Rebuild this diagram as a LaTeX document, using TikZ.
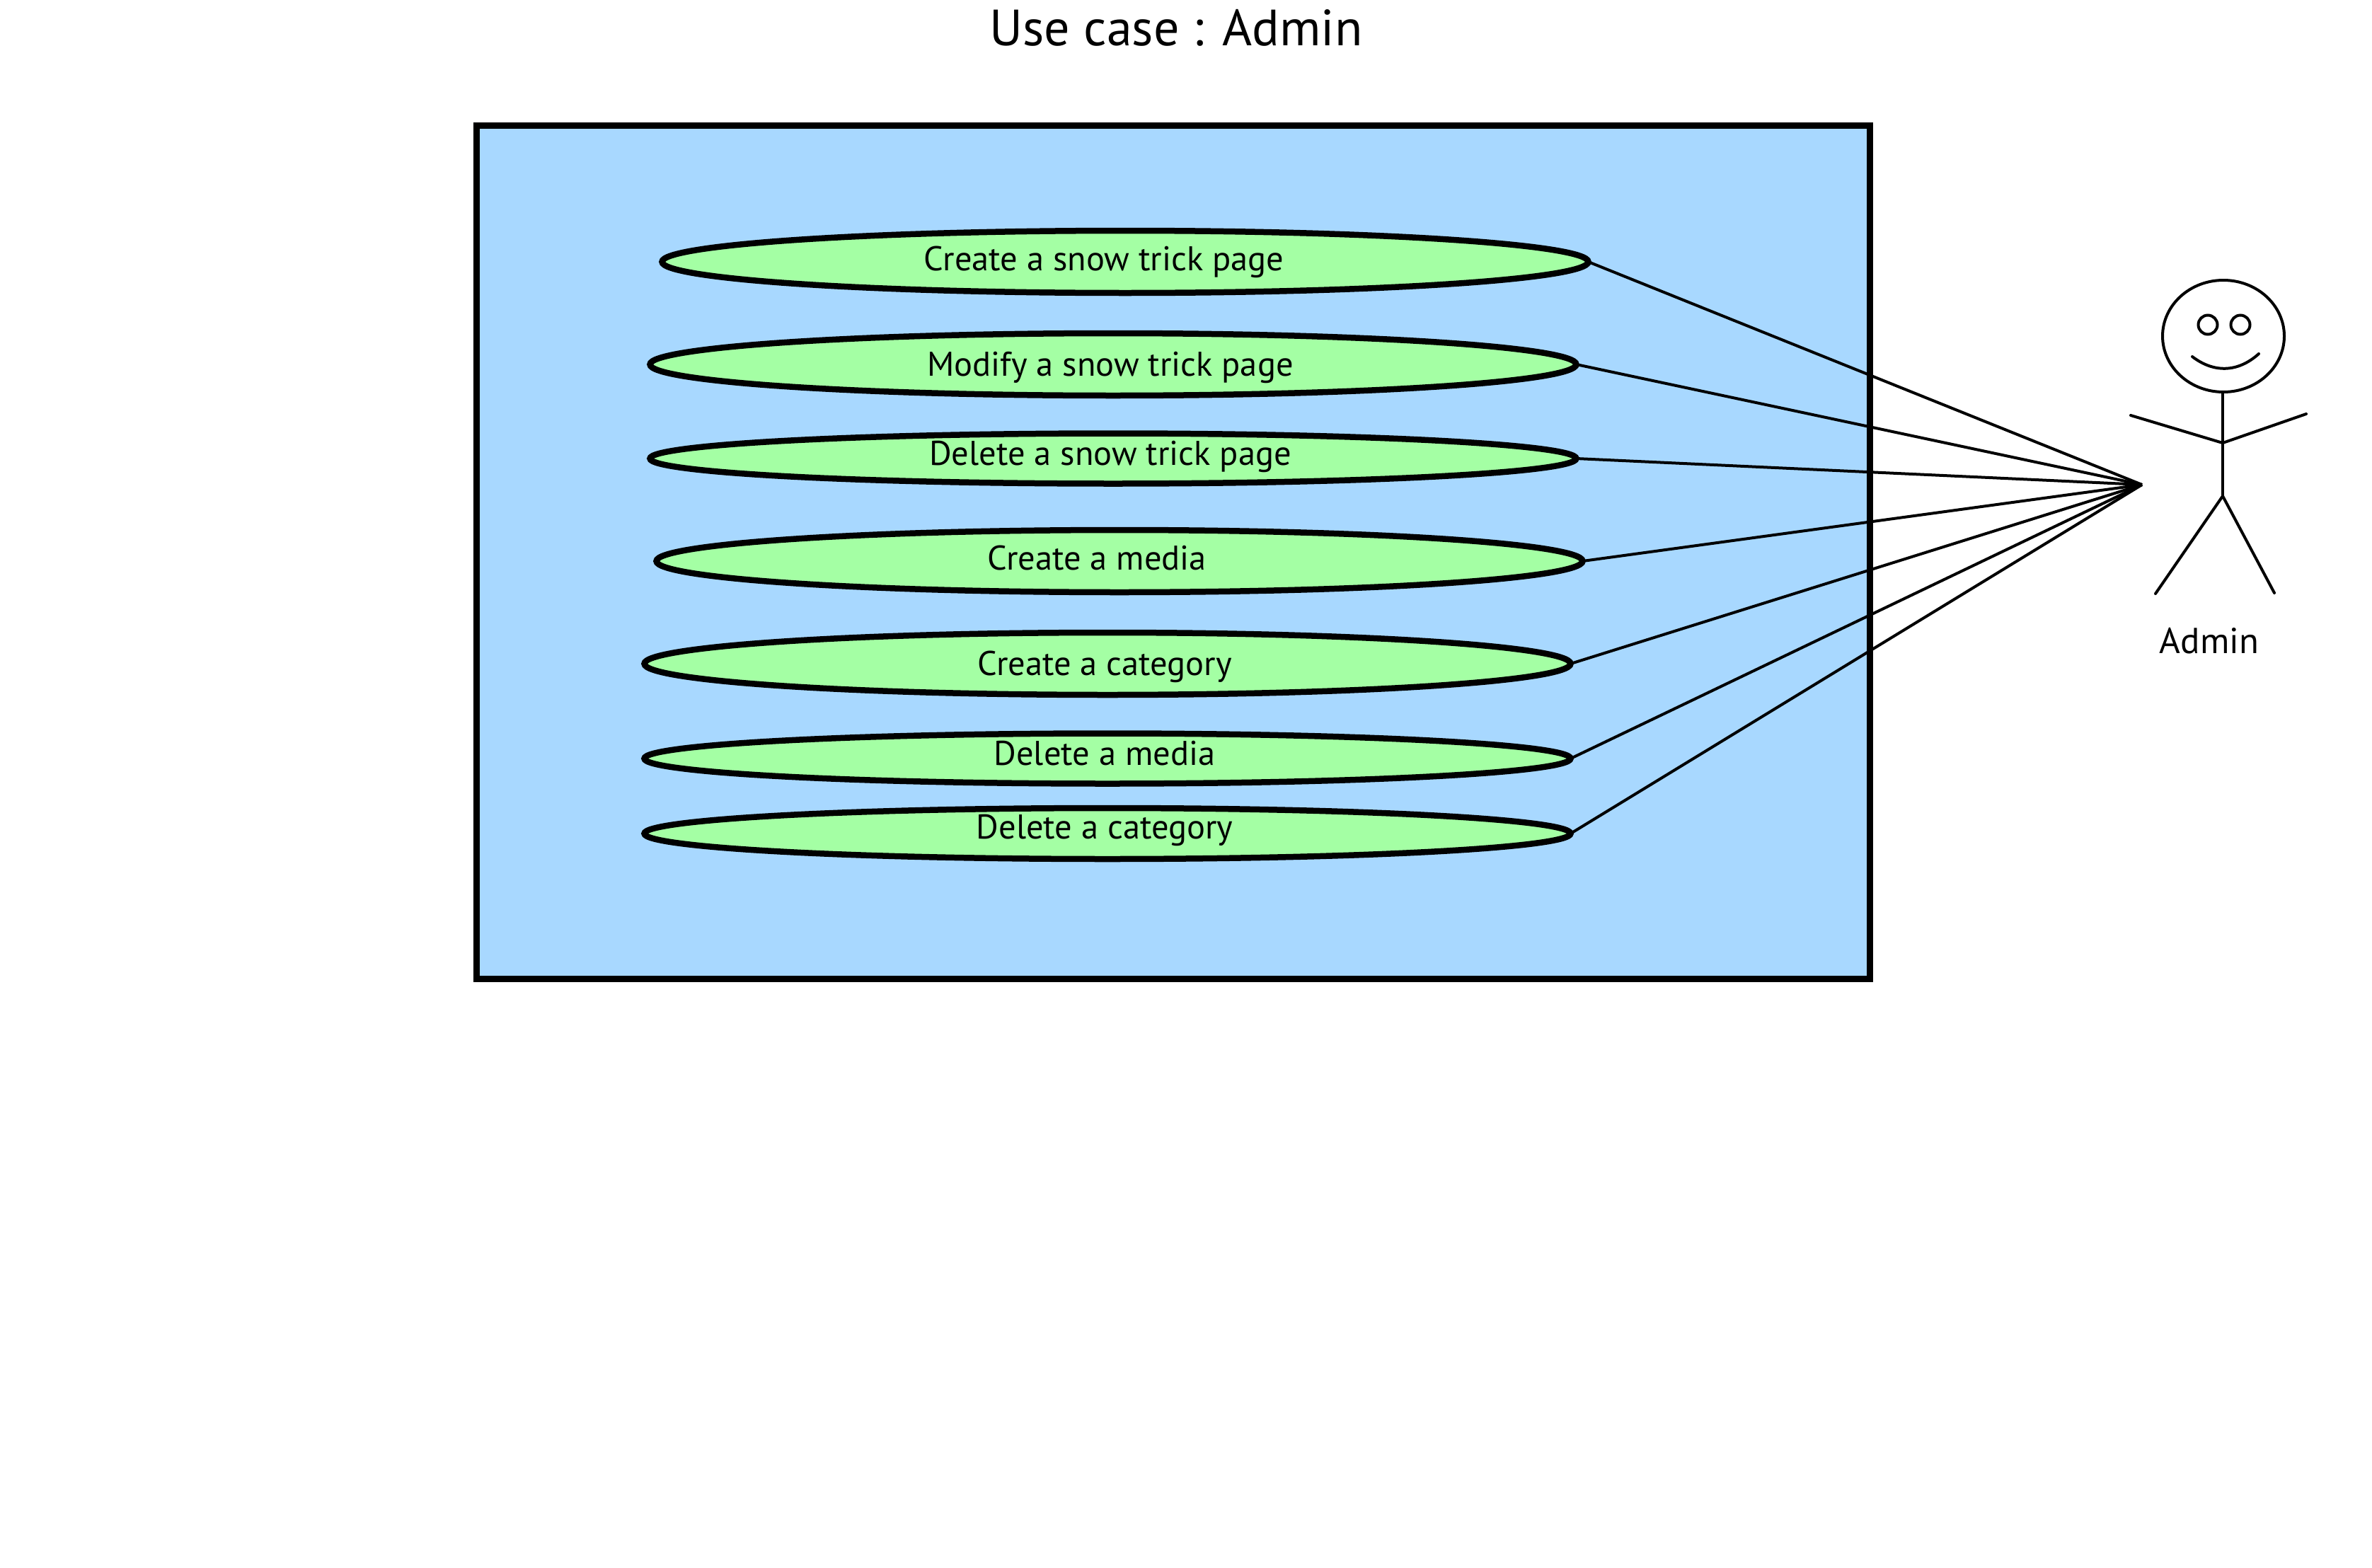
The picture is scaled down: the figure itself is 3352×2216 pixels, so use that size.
\documentclass[tikz,border=0pt]{standalone}
\usepackage{fontspec}
\setmainfont{PT Sans}
\usetikzlibrary{shapes.geometric}
\definecolor{sysblue}{HTML}{A8D8FF}
\definecolor{casegreen}{HTML}{A4FFA4}
\begin{document}
\begin{tikzpicture}[x=1pt, y=-1pt,
        c/.style={draw, fill=casegreen, ellipse, line width=8.5pt, inner sep=0pt, outer sep=0pt, minimum width=1309pt, minimum height=88pt},
        t/.style={inner sep=0pt, font=\fontsize{48.5}{50}\selectfont},
        e/.style={draw, ellipse, line width=4pt, inner sep=0pt, minimum width=27pt, minimum height=27pt},
        a/.style={line width=4pt, line cap=round},
        l/.style={line width=4pt}]
        \useasboundingbox (0,0) rectangle (3352,2216);

        \node[inner sep=0pt, font=\fontsize{72}{76}\selectfont] (title) at (1662,39) {Use case : Admin};
        \node[draw, fill=sysblue, line width=9pt, inner sep=0pt, outer sep=0pt, minimum width=1969pt, minimum height=1206pt] (system) at (1658,780) {};

        \node[c] (c1) at (1590,370) {};
        \node[c] (c2) at (1573,515) {};
        \node[c, minimum height=71pt] (c3) at (1573,648) {};
        \node[c] (c4) at (1582,793) {};
        \node[c] (c5) at (1565,938) {};
        \node[c, minimum height=71pt] (c6) at (1565,1072) {};
        \node[c, minimum height=72pt] (c7) at (1565,1178) {};

        \node[t] (t1) at (1560,370) {Create a snow trick page};
        \node[t] (t2) at (1569,519) {Modify a snow trick page};
        \node[t] (t3) at (1569,645) {Delete a snow trick page};
        \node[t] (t4) at (1550,789) {Create a media};
        \node[t] (t5) at (1561,942) {Create a category};
        \node[t] (t6) at (1561,1065) {Delete a media};
        \node[t] (t7) at (1561,1173) {Delete a category};

        % actor
        \node[draw, ellipse, line width=4pt, inner sep=0pt, outer sep=0pt, minimum width=172pt, minimum height=158pt] (head) at (3142,475) {};
        \node[e] (eyeL) at (3120,459) {};
        \node[e] (eyeR) at (3166,459) {};
        \coordinate (neck) at (3141,554);
        \coordinate (chest) at (3141,626);
        \coordinate (hip) at (3141,701);
        \coordinate (handL) at (3011,587);
        \coordinate (handR) at (3259,585);
        \coordinate (footL) at (3046,839);
        \coordinate (footR) at (3214,838);
        \coordinate (hub) at (3027,685);
        \draw[a] (3098,504) .. controls (3128,527) and (3162,527) .. (3192,500);
        \draw[a] (neck) -- (hip);
        \draw[a] (handL) -- (chest) -- (handR);
        \draw[a] (footL) -- (hip) -- (footR);
        \node[inner sep=0pt, font=\fontsize{51}{54}\selectfont] (actor) at (3122,906) {Admin};

        \foreach \i in {1,...,7} {
            \draw[l] (c\i.east) -- (hub);
        }
\end{tikzpicture}
\end{document}
